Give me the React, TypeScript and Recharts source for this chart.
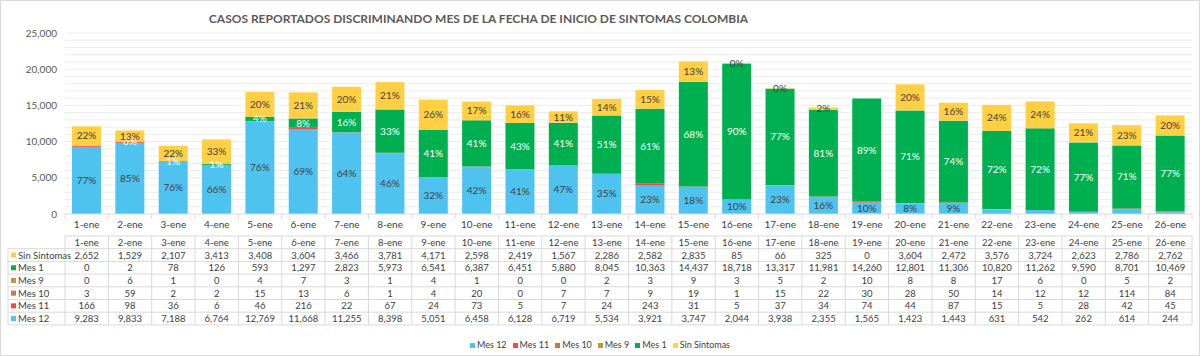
import { BarChart, Bar, XAxis, YAxis, CartesianGrid, LabelList, Legend } from "recharts";

const dates = ["1-ene", "2-ene", "3-ene", "4-ene", "5-ene", "6-ene", "7-ene", "8-ene", "9-ene", "10-ene", "11-ene", "12-ene", "13-ene", "14-ene", "15-ene", "16-ene", "17-ene", "18-ene", "19-ene", "20-ene", "21-ene", "22-ene", "23-ene", "24-ene", "25-ene", "26-ene"];
const sinSintomas = [2652, 1529, 2107, 3413, 3408, 3604, 3466, 3781, 4171, 2598, 2419, 1567, 2286, 2582, 2835, 85, 66, 325, 0, 3604, 2472, 3576, 3724, 2623, 2786, 2762];
const mes1 = [0, 2, 78, 126, 593, 1297, 2823, 5973, 6541, 6387, 6451, 5880, 8045, 10363, 14437, 18718, 13317, 11981, 14260, 12801, 11306, 10820, 11262, 9590, 8701, 10469];
const mes9 = [0, 6, 1, 0, 4, 7, 3, 1, 4, 1, 0, 0, 2, 3, 9, 3, 5, 2, 10, 8, 8, 17, 6, 0, 5, 2];
const mes10 = [3, 59, 2, 2, 15, 13, 6, 1, 4, 20, 0, 7, 7, 9, 19, 1, 15, 22, 30, 28, 50, 14, 12, 12, 114, 84];
const mes11 = [166, 98, 36, 6, 46, 216, 22, 67, 24, 73, 5, 7, 24, 243, 31, 5, 37, 34, 74, 44, 87, 15, 5, 28, 42, 45];
const mes12 = [9283, 9833, 7188, 6764, 12769, 11668, 11255, 8398, 5051, 6458, 6128, 6719, 5534, 3921, 3747, 2044, 3938, 2355, 1565, 1423, 1443, 631, 542, 262, 614, 244];

const yTicks = [0, 5000, 10000, 15000, 20000, 25000];
const gridValues = [1000, 2000, 3000, 4000, 5000, 6000, 7000, 8000, 9000, 10000, 11000, 12000, 13000, 14000, 15000, 16000, 17000, 18000, 19000, 20000, 21000, 22000, 23000, 24000, 25000];

// stack order, bottom to top
const series = [
  { key: "mes12", name: "Mes 12", color: "#4FC3F0", values: mes12 },
  { key: "mes11", name: "Mes 11", color: "#F24A4A", values: mes11 },
  { key: "mes10", name: "Mes 10", color: "#BE7A4E", values: mes10 },
  { key: "mes9", name: "Mes 9", color: "#B59A3E", values: mes9 },
  { key: "mes1", name: "Mes 1", color: "#00AF4F", values: mes1 },
  { key: "sin", name: "Sin Sintomas", color: "#FFCF44", values: sinSintomas },
];
// table rows, top to bottom
const tableRows = ["sin", "mes1", "mes9", "mes10", "mes11", "mes12"];

const data = dates.map((d, i) => {
  const row: any = { date: d };
  let total = 0;
  series.forEach((s) => (total += s.values[i]));
  series.forEach((s) => {
    row[s.key] = s.values[i];
    row[s.key + "Pct"] = Math.round((s.values[i] / total) * 100);
  });
  return row;
});

const FONT = "Lato, 'DejaVu Sans', sans-serif";
const TXT = "#404040";
const LINE = "#d9d9d9";
const fmt = (v: number) => v.toLocaleString("en-US");

const TABLE_TOP = 236;
const ROW_H = 12.7;
const AXIS_Y = 214;
const BAND = (1192 - 65) / dates.length;

function TableTick(props: any) {
  const { x, index, payload } = props;
  const left = x - BAND / 2;
  const right = x + BAND / 2;
  const bottom = TABLE_TOP + ROW_H * 7;
  const els: any[] = [];
  els.push(<line key="tk" x1={left} x2={left} y1={AXIS_Y} y2={AXIS_Y + 5} stroke={LINE} />);
  if (index === dates.length - 1) els.push(<line key="tkr" x1={right} x2={right} y1={AXIS_Y} y2={AXIS_Y + 5} stroke={LINE} />);
  els.push(
    <text key="lab" x={x} y={AXIS_Y + 14} textAnchor="middle" fontSize={10} fill={TXT} fontFamily={FONT}>
      {payload.value}
    </text>
  );
  for (let r = 0; r <= 7; r++) {
    els.push(<line key={"h" + r} x1={left} x2={right} y1={TABLE_TOP + r * ROW_H} y2={TABLE_TOP + r * ROW_H} stroke={LINE} />);
  }
  els.push(<line key="vl" x1={left} x2={left} y1={TABLE_TOP} y2={bottom} stroke={LINE} />);
  if (index === dates.length - 1) els.push(<line key="vr" x1={right} x2={right} y1={TABLE_TOP} y2={bottom} stroke={LINE} />);
  els.push(
    <text key="hd" x={x} y={TABLE_TOP + ROW_H / 2 + 3.5} textAnchor="middle" fontSize={9.5} fill={TXT} fontFamily={FONT}>
      {payload.value}
    </text>
  );
  tableRows.forEach((k, r) => {
    const s = series.find((q) => q.key === k)!;
    els.push(
      <text key={"v" + r} x={x} y={TABLE_TOP + (r + 1) * ROW_H + ROW_H / 2 + 3.5} textAnchor="middle" fontSize={9.5} fill={TXT} fontFamily={FONT}>
        {fmt(s.values[index])}
      </text>
    );
  });
  if (index === 0) {
    const lx = 8;
    for (let r = 1; r <= 7; r++) {
      els.push(<line key={"lh" + r} x1={lx} x2={left} y1={TABLE_TOP + r * ROW_H} y2={TABLE_TOP + r * ROW_H} stroke={LINE} />);
    }
    els.push(<line key="lv" x1={lx} x2={lx} y1={TABLE_TOP + ROW_H} y2={bottom} stroke={LINE} />);
    tableRows.forEach((k, r) => {
      const s = series.find((q) => q.key === k)!;
      const cy = TABLE_TOP + (r + 1) * ROW_H + ROW_H / 2;
      els.push(<rect key={"ls" + r} x={lx + 3} y={cy - 2.5} width={5} height={5} fill={s.color} />);
      els.push(
        <text key={"lt" + r} x={lx + 10} y={cy + 3.5} fontSize={9.5} fill={TXT} fontFamily={FONT}>
          {s.name}
        </text>
      );
    });
  }
  return <g>{els}</g>;
}

// percentage label in the middle of a segment; minPct hides the small ones
const pctLabel = (color: string, minPct: number) => (p: any) => {
  const { x, y, width, height, value } = p;
  if (value == null || value < minPct) return null;
  return (
    <text x={x + width / 2} y={y + height / 2} dy={3.5} textAnchor="middle" fontSize={10} fill={color} fontFamily={FONT}>
      {`${value}%`}
    </text>
  );
};

const gridCoords = (props: any) => {
  const sc = props?.yAxis?.scale;
  if (!sc) return [];
  const f = typeof sc === "function" ? sc : sc.map?.bind(sc);
  return gridValues.map((v) => f(v));
};

const legendOrder = (item: any) => series.findIndex((s) => s.name === item.value);

function LegendBox(props: any) {
  const items = [...(props.payload || [])].sort((a: any, b: any) => legendOrder(a) - legendOrder(b));
  return (
    <div style={{ display: "flex", justifyContent: "center", gap: 6, fontSize: 9, lineHeight: "12px", fontFamily: FONT, color: TXT }}>
      {items.map((it: any) => (
        <div key={it.value} style={{ display: "flex", alignItems: "center", gap: 2 }}>
          <span style={{ display: "inline-block", width: 5, height: 5, background: it.color }} />
          <span>{it.value}</span>
        </div>
      ))}
    </div>
  );
}

export default function App() {
  return (
    <div style={{ position: "absolute", left: 0, top: 0, width: 1200, height: 356, background: "#fff", border: "1px solid #d9d9d9", boxSizing: "border-box", fontFamily: FONT }}>
      <div style={{ position: "absolute", left: 0, width: 955, top: 10, textAlign: "center", fontWeight: 700, fontSize: 12, color: "#595959" }}>
        CASOS REPORTADOS DISCRIMINANDO MES DE LA FECHA DE INICIO DE SINTOMAS COLOMBIA
      </div>
      <div style={{ position: "absolute", left: -1, top: -1 }}>
        <BarChart width={1200} height={356} data={data} margin={{ top: 33, right: 8, left: 0, bottom: 0 }} barSize={29}>
          <CartesianGrid vertical={false} stroke="#ececec" horizontalCoordinatesGenerator={gridCoords} />
          <XAxis dataKey="date" height={142} interval={0} axisLine={{ stroke: LINE }} tickLine={false} tick={<TableTick />} />
          <YAxis width={65} domain={[0, 25000]} ticks={yTicks} tickFormatter={fmt} axisLine={false} tickLine={false} tick={{ fontSize: 10, fill: "#595959", fontFamily: FONT }} />
          <Legend
            layout="horizontal"
            verticalAlign="middle"
            align="center"
            itemSorter={legendOrder}
            content={<LegendBox />}
            wrapperStyle={{ top: 339, left: 0, width: 1200 }}
          />
          {series.map((s) => (
            <Bar key={s.key} dataKey={s.key} name={s.name} stackId="a" fill={s.color} isAnimationActive={false}>
              {s.key === "mes12" && <LabelList dataKey="mes12Pct" content={pctLabel(TXT, 6)} />}
              {s.key === "mes1" && <LabelList dataKey="mes1Pct" content={pctLabel("#ffffff", 0)} />}
              {s.key === "sin" && <LabelList dataKey="sinPct" content={pctLabel(TXT, 0)} />}
            </Bar>
          ))}
        </BarChart>
      </div>
    </div>
  );
}
